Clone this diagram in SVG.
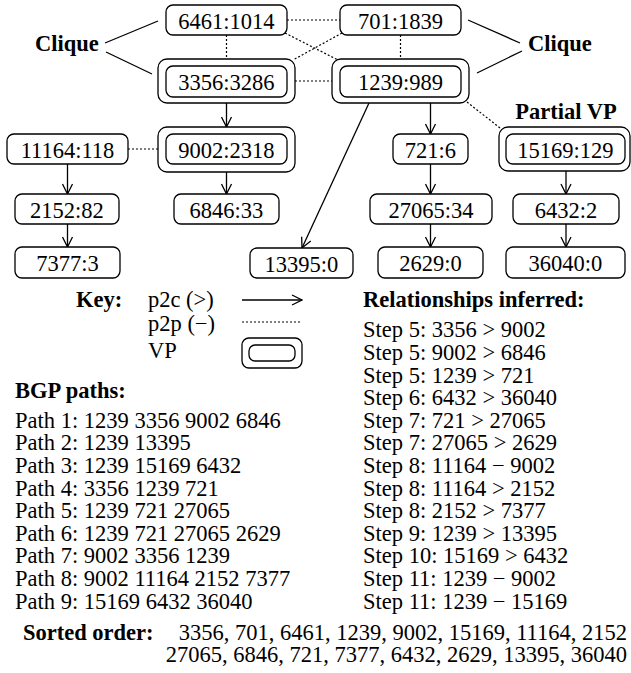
<svg xmlns="http://www.w3.org/2000/svg" width="631" height="673" viewBox="0 0 631 673" font-family="'Liberation Serif', 'Times New Roman', 'DejaVu Serif', serif">
<style>
text{font-family:'Liberation Serif','Times New Roman','DejaVu Serif',serif;font-size:22.5px;fill:#000}
.b{font-weight:bold}
.c{text-anchor:middle}
.n{fill:#fff;stroke:#000;stroke-width:1.3}
.o{fill:#fff;stroke:#000;stroke-width:1.3}
.s{stroke:#000;stroke-width:1.3;fill:none}
.d{stroke:#000;stroke-width:1.2;fill:none;stroke-dasharray:2 2}
</style>
<defs>
<marker id="arr" viewBox="0 0 12 12" refX="11" refY="6" markerWidth="12" markerHeight="12" markerUnits="userSpaceOnUse" orient="auto"><path d="M1,1 L11,6 L1,11" fill="none" stroke="#000" stroke-width="1.3"/></marker>
</defs>
<rect width="631" height="673" fill="#fff"/>
<g id="connectors">
<line class="d" x1="287" y1="20" x2="340" y2="20"/>
<line class="d" x1="226.5" y1="35" x2="226.5" y2="59"/>
<line class="d" x1="400.5" y1="35" x2="400.5" y2="59"/>
<line class="d" x1="285" y1="33" x2="338" y2="60"/>
<line class="d" x1="342" y1="33" x2="293" y2="60"/>
<line class="d" x1="295" y1="81" x2="332" y2="81"/>
<line class="d" x1="128" y1="149" x2="158" y2="149"/>
<line class="d" x1="467" y1="102" x2="500" y2="128"/>
<line class="s" marker-end="url(#arr)" x1="226.5" y1="103" x2="226.5" y2="127"/>
<line class="s" marker-end="url(#arr)" x1="226.5" y1="172" x2="226.5" y2="194"/>
<line class="s" marker-end="url(#arr)" x1="67.5" y1="164" x2="67.5" y2="194"/>
<line class="s" marker-end="url(#arr)" x1="67.5" y1="224" x2="67.5" y2="247"/>
<line class="s" marker-end="url(#arr)" x1="430.5" y1="103" x2="430.5" y2="134"/>
<line class="s" marker-end="url(#arr)" x1="369" y1="103" x2="302" y2="248"/>
<line class="s" marker-end="url(#arr)" x1="430.5" y1="164" x2="430.5" y2="194"/>
<line class="s" marker-end="url(#arr)" x1="430.5" y1="224" x2="430.5" y2="247"/>
<line class="s" marker-end="url(#arr)" x1="566" y1="171" x2="566" y2="194"/>
<line class="s" marker-end="url(#arr)" x1="566" y1="224" x2="566" y2="247"/>
<line class="s" x1="105" y1="43" x2="158" y2="21"/>
<line class="s" x1="106" y1="52" x2="152" y2="74"/>
<line class="s" x1="468" y1="20" x2="520" y2="43"/>
<line class="s" x1="477" y1="73" x2="522" y2="51"/>
</g>
<g id="n6461"><rect class="n" x="166" y="5" width="121" height="30" rx="7"/><text class="c" x="226.5" y="29">6461:1014</text></g>
<g id="n701"><rect class="n" x="340" y="5" width="121" height="30" rx="7"/><text class="c" x="400.5" y="29">701:1839</text></g>
<g id="n3356"><rect class="o" x="158" y="59" width="137" height="44" rx="9"/><rect class="n" x="166" y="66" width="121" height="31" rx="7"/><text class="c" x="226.5" y="90">3356:3286</text></g>
<g id="n1239"><rect class="o" x="332" y="59" width="137" height="44" rx="9"/><rect class="n" x="340" y="66" width="121" height="31" rx="7"/><text class="c" x="400.5" y="90">1239:989</text></g>
<g id="n11164"><rect class="n" x="7" y="134" width="121" height="30" rx="7"/><text class="c" x="67.5" y="158">11164:118</text></g>
<g id="n9002"><rect class="o" x="158" y="127" width="137" height="45" rx="9"/><rect class="n" x="166" y="134" width="121" height="30" rx="7"/><text class="c" x="226.5" y="158">9002:2318</text></g>
<g id="n721"><rect class="n" x="393" y="134" width="75" height="30" rx="7"/><text class="c" x="430.5" y="158">721:6</text></g>
<g id="n15169"><rect class="o" x="499" y="127" width="131" height="44" rx="9"/><rect class="n" x="506" y="134" width="119" height="30" rx="7"/><text class="c" x="565.5" y="158">15169:129</text></g>
<g id="n2152"><rect class="n" x="15" y="194" width="104" height="30" rx="7"/><text class="c" x="67" y="218">2152:82</text></g>
<g id="n6846"><rect class="n" x="174" y="194" width="105" height="30" rx="7"/><text class="c" x="226.5" y="218">6846:33</text></g>
<g id="n27065"><rect class="n" x="370" y="194" width="122" height="30" rx="7"/><text class="c" x="431" y="218">27065:34</text></g>
<g id="n6432"><rect class="n" x="513" y="194" width="106" height="30" rx="7"/><text class="c" x="566" y="218">6432:2</text></g>
<g id="n7377"><rect class="n" x="15" y="247" width="105" height="31" rx="7"/><text class="c" x="67.5" y="271">7377:3</text></g>
<g id="n13395"><rect class="n" x="250" y="248" width="103" height="30" rx="7"/><text class="c" x="301.5" y="272">13395:0</text></g>
<g id="n2629"><rect class="n" x="378" y="247" width="105" height="31" rx="7"/><text class="c" x="430.5" y="271">2629:0</text></g>
<g id="n36040"><rect class="n" x="506" y="247" width="119" height="31" rx="7"/><text class="c" x="565.5" y="271">36040:0</text></g>
<g id="labels">
<text class="b" x="35" y="51">Clique</text>
<text class="b" x="528" y="51">Clique</text>
<text class="b c" x="566" y="119">Partial VP</text>
</g>
<g id="key">
<text class="b" x="76" y="307">Key:</text>
<text x="148" y="307">p2c (&gt;)</text>
<text x="148" y="331">p2p (−)</text>
<text x="148" y="358">VP</text>
<line class="s" marker-end="url(#arr)" x1="242" y1="300" x2="302" y2="300"/>
<line class="d" x1="242" y1="322" x2="300" y2="322"/>
<rect class="o" x="242" y="338" width="60" height="30" rx="7"/>
<rect class="n" x="249" y="345" width="46" height="16" rx="6"/>
</g>
<g id="paths">
<text class="b" x="15" y="398">BGP paths:</text>
<text x="15" y="427.7">Path 1: 1239 3356 9002 6846</text>
<text x="15" y="450.3">Path 2: 1239 13395</text>
<text x="15" y="472.9">Path 3: 1239 15169 6432</text>
<text x="15" y="495.5">Path 4: 3356 1239 721</text>
<text x="15" y="518.1">Path 5: 1239 721 27065</text>
<text x="15" y="540.7">Path 6: 1239 721 27065 2629</text>
<text x="15" y="563.3">Path 7: 9002 3356 1239</text>
<text x="15" y="585.9">Path 8: 9002 11164 2152 7377</text>
<text x="15" y="608.5">Path 9: 15169 6432 36040</text>
</g>
<g id="steps">
<text class="b" x="363" y="307">Relationships inferred:</text>
<text x="363" y="337.3">Step 5: 3356 &gt; 9002</text>
<text x="363" y="359.9">Step 5: 9002 &gt; 6846</text>
<text x="363" y="382.5">Step 5: 1239 &gt; 721</text>
<text x="363" y="405.1">Step 6: 6432 &gt; 36040</text>
<text x="363" y="427.7">Step 7: 721 &gt; 27065</text>
<text x="363" y="450.3">Step 7: 27065 &gt; 2629</text>
<text x="363" y="472.9">Step 8: 11164 − 9002</text>
<text x="363" y="495.5">Step 8: 11164 &gt; 2152</text>
<text x="363" y="518.1">Step 8: 2152 &gt; 7377</text>
<text x="363" y="540.7">Step 9: 1239 &gt; 13395</text>
<text x="363" y="563.3">Step 10: 15169 &gt; 6432</text>
<text x="363" y="585.9">Step 11: 1239 − 9002</text>
<text x="363" y="608.5">Step 11: 1239 − 15169</text>
</g>
<g id="sorted">
<text class="b" x="23" y="640">Sorted order:</text>
<text x="627" y="640" text-anchor="end">3356, 701, 6461, 1239, 9002, 15169, 11164, 2152</text>
<text x="627" y="662" text-anchor="end">27065, 6846, 721, 7377, 6432, 2629, 13395, 36040</text>
</g>
</svg>
